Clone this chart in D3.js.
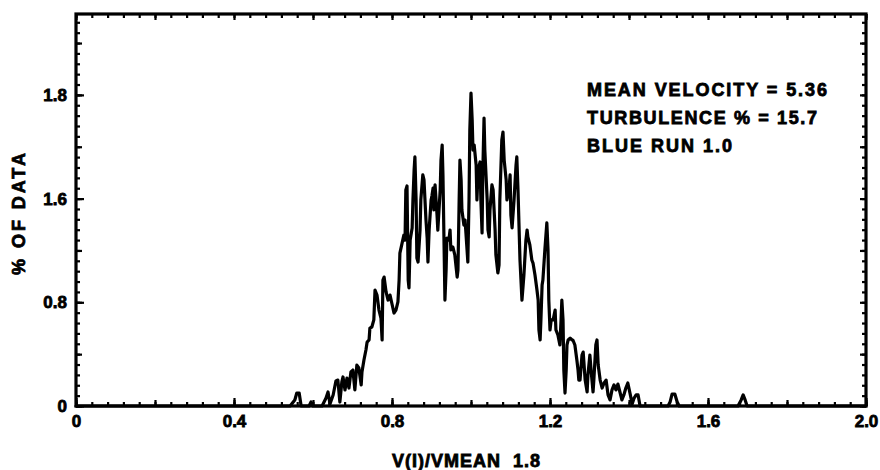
<!DOCTYPE html>
<html>
<head>
<meta charset="utf-8">
<script src="https://cdn.jsdelivr.net/npm/d3@7"></script>
<style>
  html, body { margin: 0; padding: 0; background: #fff; }
  svg { display: block; }
  text { font-family: "Liberation Sans", Arial, sans-serif; font-weight: bold; fill: #000; stroke: #000; stroke-width: 0.8px; white-space: pre; }
</style>
</head>
<body>
<svg id="chart" width="880" height="470"></svg>
<script>
// ---- data ----
const velocityRatio = [
  0, 0.542, 0.554, 0.559, 0.565, 0.570, 0.590, 0.595, 0.600, 0.623,
  0.633, 0.638, 0.643, 0.651, 0.658, 0.663, 0.668, 0.673, 0.676, 0.681,
  0.686, 0.691, 0.696, 0.701, 0.706, 0.711, 0.716, 0.722, 0.724, 0.729,
  0.734, 0.737, 0.742, 0.744, 0.749, 0.754, 0.757, 0.762, 0.767, 0.772,
  0.775, 0.777, 0.780, 0.785, 0.790, 0.795, 0.800, 0.805, 0.810, 0.815,
  0.818, 0.820, 0.825, 0.830, 0.833, 0.835, 0.838, 0.841, 0.843, 0.846,
  0.851, 0.853, 0.856, 0.858, 0.861, 0.863, 0.866, 0.871, 0.873, 0.878,
  0.881, 0.886, 0.889, 0.891, 0.894, 0.899, 0.901, 0.904, 0.906, 0.909,
  0.914, 0.916, 0.922, 0.924, 0.927, 0.929, 0.932, 0.934, 0.937, 0.939,
  0.944, 0.947, 0.949, 0.954, 0.959, 0.965, 0.967, 0.970, 0.972, 0.975,
  0.977, 0.982, 0.985, 0.990, 0.992, 0.995, 0.997, 1.000, 1.003, 1.005,
  1.008, 1.013, 1.015, 1.018, 1.023, 1.025, 1.028, 1.030, 1.033, 1.035,
  1.041, 1.043, 1.046, 1.048, 1.053, 1.056, 1.061, 1.063, 1.068, 1.071,
  1.073, 1.078, 1.081, 1.084, 1.089, 1.091, 1.096, 1.099, 1.101, 1.104,
  1.109, 1.114, 1.116, 1.119, 1.124, 1.129, 1.132, 1.134, 1.139, 1.142,
  1.144, 1.149, 1.154, 1.157, 1.162, 1.167, 1.170, 1.172, 1.175, 1.177,
  1.180, 1.182, 1.187, 1.192, 1.195, 1.197, 1.200, 1.203, 1.208, 1.213,
  1.215, 1.220, 1.225, 1.228, 1.230, 1.233, 1.235, 1.238, 1.241, 1.243,
  1.246, 1.251, 1.256, 1.258, 1.263, 1.268, 1.271, 1.273, 1.276, 1.281,
  1.284, 1.289, 1.294, 1.296, 1.301, 1.304, 1.309, 1.311, 1.316, 1.319,
  1.322, 1.327, 1.332, 1.337, 1.342, 1.347, 1.352, 1.357, 1.362, 1.367,
  1.372, 1.377, 1.382, 1.387, 1.392, 1.397, 1.403, 1.408, 1.413, 1.418,
  1.423, 1.428, 1.499, 1.504, 1.509, 1.516, 1.522, 1.527, 1.676, 1.684,
  1.689, 1.694, 1.699, 2.000
];
const percentOfData = [
  0, 0, 0.035, 0.075, 0.075, 0, 0, 0.023, 0, 0,
  0.046, 0.081, 0.012, 0.064, 0.145, 0.150, 0.023, 0.139, 0.168, 0.093,
  0.162, 0.104, 0.197, 0.208, 0.093, 0.237, 0.220, 0.122, 0.197, 0.266,
  0.324, 0.370, 0.382, 0.451, 0.457, 0.498, 0.671, 0.642, 0.555, 0.509,
  0.382, 0.729, 0.746, 0.660, 0.613, 0.642, 0.590, 0.538, 0.555, 0.602,
  0.729, 0.885, 0.937, 0.989, 0.960, 1.250, 1.273, 0.729, 0.683, 0.960,
  1.030, 1.192, 1.366, 1.441, 1.192, 0.856, 0.833, 1.018, 1.192, 1.337,
  1.308, 1.076, 0.972, 0.833, 1.018, 1.192, 1.215, 1.261, 1.134, 1.279,
  1.105, 1.018, 1.250, 1.423, 1.510, 1.337, 0.903, 0.613, 0.787, 0.972,
  0.960, 1.018, 0.903, 0.920, 0.874, 0.746, 0.787, 1.192, 1.423, 1.308,
  1.134, 1.047, 1.076, 0.903, 0.833, 1.192, 1.597, 1.811, 1.655, 1.481,
  1.510, 1.394, 1.192, 1.366, 1.412, 1.192, 1.001, 1.366, 1.666, 1.481,
  1.192, 1.018, 0.978, 1.134, 1.279, 1.250, 1.018, 0.874, 0.770, 0.816,
  1.192, 1.539, 1.585, 1.423, 1.308, 1.192, 1.250, 1.337, 1.105, 1.030,
  1.192, 1.394, 1.441, 1.250, 0.845, 0.613, 0.700, 0.758, 0.960, 1.018,
  0.978, 0.932, 0.845, 0.827, 0.758, 0.671, 0.613, 0.440, 0.382, 0.498,
  0.700, 0.729, 0.903, 1.059, 0.903, 0.613, 0.440, 0.498, 0.498, 0.555,
  0.440, 0.411, 0.353, 0.498, 0.613, 0.498, 0.208, 0.075, 0.208, 0.353,
  0.382, 0.393, 0.382, 0.382, 0.353, 0.266, 0.208, 0.150, 0.150, 0.295,
  0.312, 0.150, 0.081, 0.179, 0.295, 0.208, 0.081, 0.150, 0.353, 0.382,
  0.237, 0.150, 0.104, 0.133, 0.150, 0.064, 0.035, 0.093, 0.122, 0.093,
  0.127, 0.081, 0.035, 0.064, 0.104, 0.133, 0.069, 0.012, 0.046, 0.064,
  0.064, 0, 0, 0.023, 0.069, 0.069, 0.023, 0, 0, 0.035,
  0.064, 0.035, 0, 0
];
const xTickValues = [0, 0.4, 0.8, 1.2, 1.6, 2.0];
const xTickLabels = ["0", "0.4", "0.8", "1.2", "1.6", "2.0"];
const yTickValues = [0, 0.6, 1.2, 1.8];
const yTickLabels = ["0", "0.8", "1.6", "1.8"];
const annotationLines = ["MEAN VELOCITY = 5.36", "TURBULENCE % = 15.7", "BLUE RUN 1.0"];
const xTitle = "V(I)/VMEAN  1.8";
const yTitle = "% OF DATA";

// ---- layout ----
const svg = d3.select("#chart");
const L = 76, R = 866, T = 14, B = 406;
const x = d3.scaleLinear().domain([0, 2]).range([L, R]);
const y = d3.scaleLinear().domain([0, 2.268]).range([B, T]);

svg.append("rect").attr("width", 880).attr("height", 470).attr("fill", "#fff");

function styleAxis(g) {
  g.select(".domain").remove();
  g.selectAll("line").attr("stroke", "#000").attr("stroke-width", 2.2);
}

// minor / medium ticks
const xMinor = d3.range(0, 2.0001, 0.04);
const xMid = d3.range(0, 2.0001, 0.2);
const yMinor = d3.range(0, 2.268, 0.06);
const yMid = d3.range(0, 2.268, 0.3);

// bottom
svg.append("g").attr("transform", `translate(0,${B})`)
  .call(d3.axisBottom(x).tickValues(xMinor).tickSize(-4).tickFormat(""))
  .call(styleAxis);
svg.append("g").attr("transform", `translate(0,${B})`)
  .call(d3.axisBottom(x).tickValues(xMid).tickSize(-6).tickFormat(""))
  .call(styleAxis);
const xAx = svg.append("g").attr("transform", `translate(0,${B})`)
  .call(d3.axisBottom(x).tickValues(xTickValues).tickSize(-8).tickPadding(9)
    .tickFormat((d, i) => xTickLabels[i]))
  .call(styleAxis);
xAx.selectAll("text").attr("font-size", 17).attr("font-family", "Liberation Sans, Arial, sans-serif")
  .attr("font-weight", "bold");

// top
svg.append("g").attr("transform", `translate(0,${T})`)
  .call(d3.axisTop(x).tickValues(xMinor).tickSize(-4).tickFormat(""))
  .call(styleAxis);
svg.append("g").attr("transform", `translate(0,${T})`)
  .call(d3.axisTop(x).tickValues(xMid).tickSize(-6).tickFormat(""))
  .call(styleAxis);

// left
svg.append("g").attr("transform", `translate(${L},0)`)
  .call(d3.axisLeft(y).tickValues(yMinor).tickSize(-4).tickFormat(""))
  .call(styleAxis);
svg.append("g").attr("transform", `translate(${L},0)`)
  .call(d3.axisLeft(y).tickValues(yMid).tickSize(-6).tickFormat(""))
  .call(styleAxis);
const yAx = svg.append("g").attr("transform", `translate(${L},0)`)
  .call(d3.axisLeft(y).tickValues(yTickValues).tickSize(-8).tickPadding(9)
    .tickFormat((d, i) => yTickLabels[i]))
  .call(styleAxis);
yAx.selectAll("text").attr("font-size", 17).attr("font-family", "Liberation Sans, Arial, sans-serif")
  .attr("font-weight", "bold");

// right
svg.append("g").attr("transform", `translate(${R},0)`)
  .call(d3.axisRight(y).tickValues(yMinor).tickSize(-4).tickFormat(""))
  .call(styleAxis);
svg.append("g").attr("transform", `translate(${R},0)`)
  .call(d3.axisRight(y).tickValues(yMid).tickSize(-6).tickFormat(""))
  .call(styleAxis);

// frame
svg.append("rect")
  .attr("x", L).attr("y", T).attr("width", R - L).attr("height", B - T)
  .attr("fill", "none").attr("stroke", "#000").attr("stroke-width", 3.2);

// data trace
const pts = velocityRatio.map((v, i) => [v, percentOfData[i]]);
svg.append("path")
  .datum(pts)
  .attr("fill", "none")
  .attr("stroke", "#000")
  .attr("stroke-width", 3.2)
  .attr("stroke-linejoin", "round")
  .attr("stroke-linecap", "round")
  .attr("d", d3.line().x(d => x(d[0])).y(d => y(d[1])));

// annotation
const annW = [240, 230, 145];
svg.append("g").selectAll("text")
  .data(annotationLines)
  .join("text")
  .attr("x", 587)
  .attr("y", (d, i) => 96 + i * 28)
  .attr("font-size", 18)
  .attr("textLength", (d, i) => annW[i])
  .attr("lengthAdjust", "spacing")
  .text(d => d);

// axis titles
svg.append("text")
  .attr("x", 466).attr("y", 467)
  .attr("text-anchor", "middle")
  .attr("font-size", 18)
  .attr("textLength", 148).attr("lengthAdjust", "spacing")
  .text(xTitle);

svg.append("text")
  .attr("transform", "translate(25,214) rotate(-90)")
  .attr("text-anchor", "middle")
  .attr("font-size", 18)
  .attr("textLength", 122).attr("lengthAdjust", "spacing")
  .text(yTitle);
</script>
</body>
</html>
